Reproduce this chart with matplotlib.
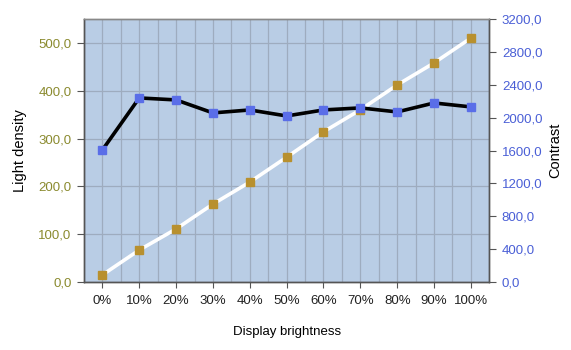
import matplotlib
matplotlib.use("Agg")
import matplotlib.pyplot as plt
from matplotlib.ticker import FuncFormatter, MultipleLocator

plt.rcParams['font.family'] = ['Liberation Sans', 'DejaVu Sans']

brightness = ["0%", "10%", "20%", "30%", "40%", "50%", "60%", "70%", "80%", "90%", "100%"]
light_density = [15, 67, 111, 163, 209, 261, 314, 360, 412, 458, 510]
contrast = [1606, 2239, 2215, 2057, 2093, 2020, 2093, 2118, 2069, 2178, 2130]

left_ticks = [0, 100, 200, 300, 400, 500]
right_ticks = [0, 400, 800, 1200, 1600, 2000, 2400, 2800, 3200]

bg = "#b9cde5"
grid_c = "#9eacbf"
olive = "#8a8a2e"
blue = "#4a5fd6"
gold = "#b8902e"
marker_blue = "#5a6ee8"

fig = plt.figure(figsize=(5.71, 3.5), dpi=100)
ax = fig.add_axes([0.147, 0.194, 0.710, 0.752])
ax2 = ax.twinx()

x = list(range(len(brightness)))

ax.set_facecolor(bg)
ax.set_xlim(-0.5, len(brightness) - 0.5)
ax.set_ylim(0, 550)
ax.set_yticks(left_ticks)
ax.set_xticks(x)
ax.set_xticklabels(brightness)
ax.xaxis.set_minor_locator(MultipleLocator(0.5))
ax.grid(True, which="both", axis="x", color=grid_c, linewidth=0.9)
ax.grid(True, which="major", axis="y", color=grid_c, linewidth=0.9)
ax.set_axisbelow(True)
ax.tick_params(axis="x", which="minor", length=0)
ax.tick_params(axis="x", which="major", length=4, color="#555555", labelsize=9.5, labelcolor="#222222", pad=5)
ax.tick_params(axis="y", length=5, color="#555555", labelsize=9.5, labelcolor=olive, pad=4)
ax.yaxis.set_major_formatter(FuncFormatter(lambda v, p: f"{v:.1f}".replace(".", ",")))

ax.plot(x, light_density, color="white", linewidth=2.6, marker="s", markersize=5.5,
        markerfacecolor=gold, markeredgecolor=gold, zorder=3)

ax2.set_ylim(0, 3200)
ax2.set_yticks(right_ticks)
ax2.tick_params(axis="y", length=5, color="#555555", labelsize=9.5, labelcolor=blue, pad=4)
ax2.yaxis.set_major_formatter(FuncFormatter(lambda v, p: f"{v:.1f}".replace(".", ",")))
ax2.plot(x, contrast, color="black", linewidth=2.6, marker="s", markersize=5.5,
         markerfacecolor=marker_blue, markeredgecolor=marker_blue, zorder=3)

for a in (ax, ax2):
    for side in ("left", "bottom", "right"):
        a.spines[side].set_color("#555555")
        a.spines[side].set_linewidth(1.0)
    a.spines["top"].set_color("#888888")
    a.spines["top"].set_linewidth(1.0)

ax.set_ylabel("Light density", fontsize=10.5, color="black", labelpad=8)
ax2.set_ylabel("Contrast", fontsize=10.5, color="black", labelpad=4)
ax.set_xlabel("Display brightness", fontsize=9.5, color="black", labelpad=14)

fig.savefig("out.png", dpi=100, facecolor="white")
